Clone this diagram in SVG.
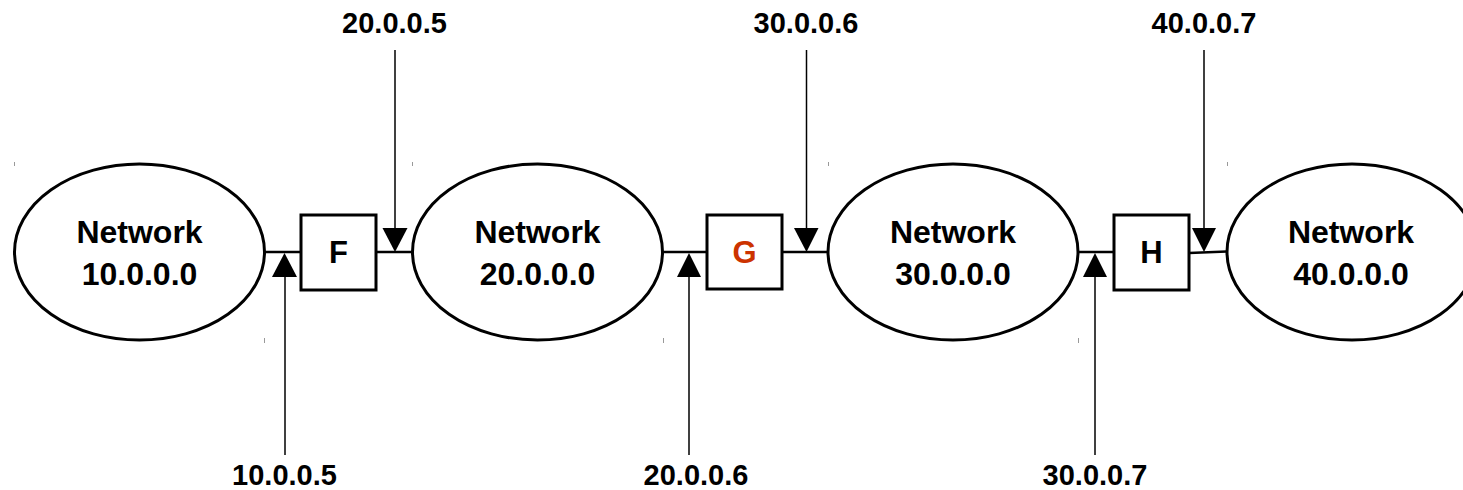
<svg xmlns="http://www.w3.org/2000/svg" width="1463" height="490" viewBox="0 0 1463 490">
<style>
.net{fill:#fff;stroke:#000;stroke-width:3}
.box{fill:#fff;stroke:#000;stroke-width:3}
.lnk{stroke:#000;stroke-width:2.5;fill:none}
.shaft{stroke:#000;stroke-width:1.5;fill:none}
.head{fill:#000}
.t{font-family:"Liberation Sans",Arial,sans-serif;font-weight:bold;font-size:29px;fill:#000;text-anchor:middle}
.n{font-size:32px}
.r{font-size:31px}
.tick{fill:#999}
</style>
<rect width="1463" height="490" fill="#fff"/>
<g id="connectors">
<line class="lnk" x1="265" y1="252" x2="301" y2="252"/>
<line class="lnk" x1="376" y1="252" x2="413" y2="252"/>
<line class="lnk" x1="662" y1="252" x2="707" y2="252"/>
<line class="lnk" x1="782" y1="252" x2="828" y2="252"/>
<line class="lnk" x1="1078" y1="252" x2="1114" y2="252"/>
<line class="lnk" x1="1189" y1="253" x2="1227" y2="251.5"/>
<line class="shaft" x1="285" y1="276" x2="285" y2="455"/>
<polygon class="head" points="284.5,253 272,277 297,277"/>
<line class="shaft" x1="395" y1="50" x2="395" y2="229"/>
<polygon class="head" points="382.5,228 407.5,228 395,252"/>
<line class="shaft" x1="689" y1="276" x2="689" y2="455"/>
<polygon class="head" points="689,253 677,277 701,277"/>
<line class="shaft" x1="806.5" y1="50" x2="806.5" y2="229"/>
<polygon class="head" points="794,228 818.5,228 806.5,252"/>
<line class="shaft" x1="1095" y1="276" x2="1095" y2="455"/>
<polygon class="head" points="1095,253 1083,277 1107,277"/>
<line class="shaft" x1="1204" y1="50" x2="1204" y2="229"/>
<polygon class="head" points="1192,228 1216,228 1204,252"/>
</g>
<g id="net10">
<ellipse class="net" cx="139.5" cy="252" rx="125" ry="88"/>
<text class="t n" x="139.5" y="243">Network</text>
<text class="t n" x="139.5" y="285">10.0.0.0</text>
<rect class="tick" x="14" y="162" width="1" height="4"/>
<rect class="tick" x="264" y="338" width="1" height="5"/>
</g>
<g id="net20">
<ellipse class="net" cx="537.5" cy="252" rx="125" ry="88"/>
<text class="t n" x="537.5" y="243">Network</text>
<text class="t n" x="537.5" y="285">20.0.0.0</text>
<rect class="tick" x="412" y="162" width="1" height="4"/>
<rect class="tick" x="663" y="338" width="1" height="5"/>
</g>
<g id="net30">
<ellipse class="net" cx="953" cy="252" rx="125" ry="88"/>
<text class="t n" x="953" y="243">Network</text>
<text class="t n" x="953" y="285">30.0.0.0</text>
<rect class="tick" x="828" y="162" width="1" height="4"/>
<rect class="tick" x="1078" y="338" width="1" height="5"/>
</g>
<g id="net40">
<ellipse class="net" cx="1352" cy="252" rx="125" ry="88"/>
<text class="t n" x="1351" y="243">Network</text>
<text class="t n" x="1351" y="285">40.0.0.0</text>
<rect class="tick" x="1227" y="162" width="1" height="4"/>
</g>
<g id="routerF">
<rect class="box" x="301" y="215" width="75" height="75"/>
<text class="t r" x="338.5" y="263">F</text>
</g>
<g id="routerG">
<rect class="box" x="707" y="215" width="75" height="74"/>
<text class="t r" x="744.5" y="263" style="fill:#cc3300">G</text>
</g>
<g id="routerH">
<rect class="box" x="1114" y="215" width="75" height="75"/>
<text class="t r" x="1151.5" y="263">H</text>
</g>
<g id="labels">
<text class="t" x="394.5" y="33">20.0.0.5</text>
<text class="t" x="806" y="33">30.0.0.6</text>
<text class="t" x="1204" y="33">40.0.0.7</text>
<text class="t" x="284.5" y="485">10.0.0.5</text>
<text class="t" x="696" y="485">20.0.0.6</text>
<text class="t" x="1095" y="485">30.0.0.7</text>
</g>
</svg>
